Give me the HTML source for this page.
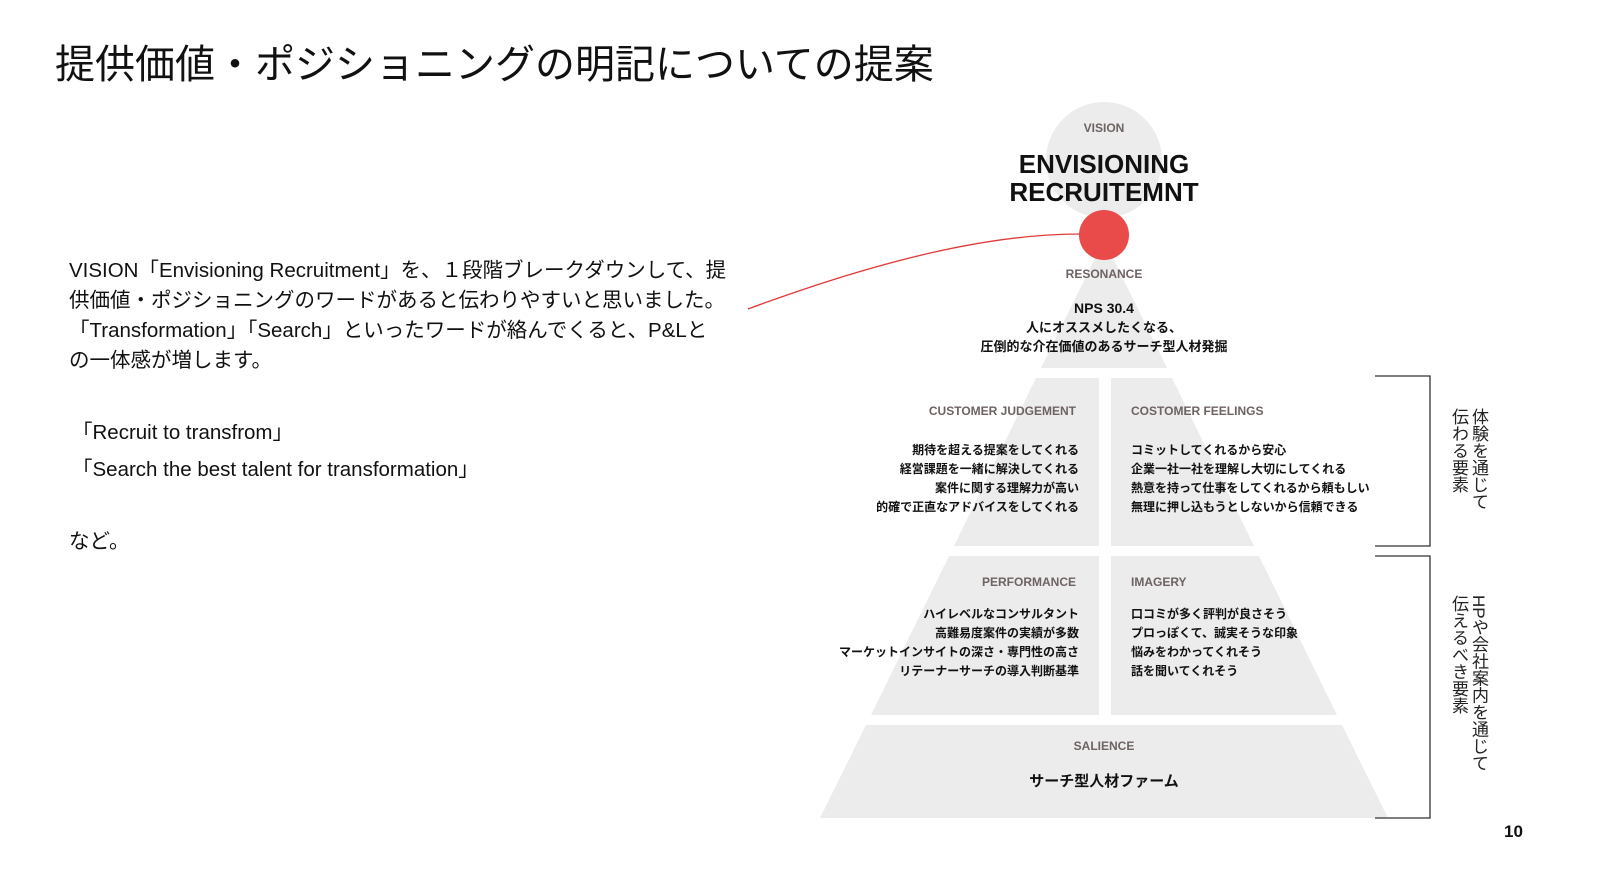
<!DOCTYPE html>
<html><head><meta charset="utf-8">
<style>
body{margin:0;width:1600px;height:891px;background:#fff;position:relative;overflow:hidden;font-family:"Liberation Sans","Noto Sans CJK JP",sans-serif;color:#111}
.a{position:absolute;white-space:nowrap}
.lab{font-size:12px;color:#6e6262;font-weight:bold}
.it{font-size:12px;font-weight:bold;line-height:19px}
.r{text-align:right}
.c{text-align:center;transform:translateX(-50%)}
.body{font-size:20.5px;line-height:30px}
.vt{writing-mode:vertical-rl;font-size:17px;line-height:20px;color:#222}
</style></head><body>
<svg class="a" style="left:0;top:0" width="1600" height="891">
<circle cx="1104" cy="160" r="58" fill="#ececec"/>
<polygon points="1104,240 1167,368 1041,368" fill="#ececec"/>
<polygon points="1036,378 1099,378 1099,546 954,546" fill="#ececec"/>
<polygon points="1111,378 1172,378 1254,546 1111,546" fill="#ececec"/>
<polygon points="949,556 1099,556 1099,715 871,715" fill="#ececec"/>
<polygon points="1111,556 1259,556 1337,715 1111,715" fill="#ececec"/>
<polygon points="866,725 1342,725 1388,818 820,818" fill="#ececec"/>
<circle cx="1104" cy="235" r="25" fill="#e94a4a"/>
<path d="M748,309 C880,260 990,234 1080,234" stroke="#e03a3a" stroke-width="1.3" fill="none"/>
<path d="M1375,376 H1430 V546 H1375 M1375,556 H1430 V818 H1375" stroke="#333" stroke-width="1.3" fill="none"/>
</svg>
<div class="a" style="left:55px;top:40px;font-size:40px;line-height:50px">提供価値・ポジショニングの明記についての提案</div>
<div class="a body" style="left:69px;top:256px">VISION「Envisioning Recruitment」を、１段階ブレークダウンして、提<br>供価値・ポジショニングのワードがあると伝わりやすいと思いました。<br>「Transformation」「Search」といったワードが絡んでくると、P&amp;Lと<br>の一体感が増します。</div>
<div class="a body" style="left:72px;top:418px">「Recruit to transfrom」</div>
<div class="a body" style="left:72px;top:455px">「Search the best talent for transformation」</div>
<div class="a body" style="left:69px;top:527px">など。</div>

<div class="a lab c" style="left:1104px;top:121px">VISION</div>
<div class="a c" style="left:1104px;top:150px;font-size:26px;font-weight:bold;line-height:28px;text-align:center">ENVISIONING<br>RECRUITEMNT</div>
<div class="a lab c" style="left:1104px;top:267px">RESONANCE</div>
<div class="a c" style="left:1104px;top:299px;font-size:13px;font-weight:bold;line-height:19px;text-align:center"><span style="font-size:14px">NPS 30.4</span><br>人にオススメしたくなる、<br>圧倒的な介在価値のあるサーチ型人材発掘</div>

<div class="a lab r" style="right:524px;top:404px">CUSTOMER JUDGEMENT</div>
<div class="a it r" style="right:521px;top:441px">期待を超える提案をしてくれる<br>経営課題を一緒に解決してくれる<br>案件に関する理解力が高い<br>的確で正直なアドバイスをしてくれる</div>
<div class="a lab" style="left:1131px;top:404px">COSTOMER FEELINGS</div>
<div class="a it" style="left:1131px;top:441px">コミットしてくれるから安心<br>企業一社一社を理解し大切にしてくれる<br>熱意を持って仕事をしてくれるから頼もしい<br>無理に押し込もうとしないから信頼できる</div>

<div class="a lab r" style="right:524px;top:575px">PERFORMANCE</div>
<div class="a it r" style="right:521px;top:605px">ハイレベルなコンサルタント<br>高難易度案件の実績が多数<br>マーケットインサイトの深さ・専門性の高さ<br>リテーナーサーチの導入判断基準</div>
<div class="a lab" style="left:1131px;top:575px">IMAGERY</div>
<div class="a it" style="left:1131px;top:605px">口コミが多く評判が良さそう<br>プロっぽくて、誠実そうな印象<br>悩みをわかってくれそう<br>話を聞いてくれそう</div>

<div class="a lab c" style="left:1104px;top:739px">SALIENCE</div>
<div class="a c" style="left:1104px;top:770px;font-size:15px;font-weight:bold">サーチ型人材ファーム</div>

<div class="a vt" style="left:1448px;top:408px">体験を通じて<br>伝わる要素</div>
<div class="a vt" style="left:1448px;top:595px">HPや会社案内を通じて<br>伝えるべき要素</div>
<div class="a" style="left:1504px;top:822px;font-size:17px;font-weight:bold">10</div>
</body></html>
